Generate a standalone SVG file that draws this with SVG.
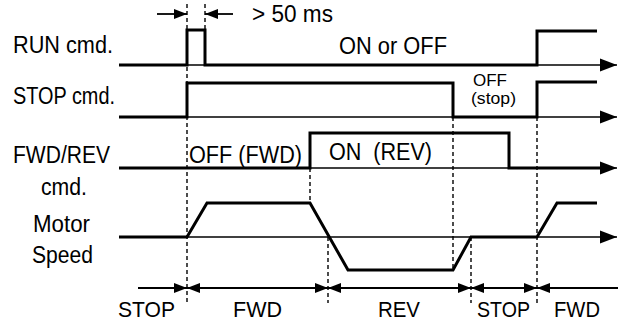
<svg xmlns="http://www.w3.org/2000/svg" width="618" height="322" viewBox="0 0 618 322">
<style>
text{font-family:"Liberation Sans",Arial,sans-serif;font-size:23px;fill:#000}
.sm{font-size:16px}
.bt{font-size:22px}
.axis{stroke:#000;stroke-width:1.6;fill:none}
.sig{stroke:#000;stroke-width:3;fill:none;stroke-linejoin:miter}
.dash{stroke:#000;stroke-width:1.4;stroke-dasharray:4,3;fill:none}
.dim{stroke:#000;stroke-width:1.8;fill:none}
</style>
<defs>
<marker id="ah" markerUnits="userSpaceOnUse" markerWidth="18" markerHeight="14" refX="17" refY="7" orient="auto"><path d="M0,0.5 L17,7 L0,13.5 z" fill="#000"/></marker>
<marker id="dh" markerUnits="userSpaceOnUse" markerWidth="14" markerHeight="12" refX="13" refY="6" orient="auto-start-reverse"><path d="M0,1 L13,6 L0,11 z" fill="#000"/></marker>
</defs>
<g id="guides">
<line class="dash" x1="187" y1="4" x2="187" y2="303"/>
<line class="dash" x1="205" y1="4" x2="205" y2="30"/>
<line class="dash" x1="310" y1="168" x2="310" y2="203"/>
<line class="dash" x1="328" y1="237" x2="328" y2="303"/>
<line class="dash" x1="453" y1="117" x2="453" y2="271"/>
<line class="dash" x1="471" y1="237" x2="471" y2="303"/>
<line class="dash" x1="537" y1="117" x2="537" y2="303"/>
</g>
<g id="connectors">
<line class="axis" x1="119" y1="65" x2="617" y2="65" marker-end="url(#ah)"/>
<line class="axis" x1="119" y1="117" x2="617" y2="117" marker-end="url(#ah)"/>
<line class="axis" x1="119" y1="168" x2="617" y2="168" marker-end="url(#ah)"/>
<line class="axis" x1="119" y1="237" x2="617" y2="237" marker-end="url(#ah)"/>
<line class="dim" x1="157" y1="14" x2="187" y2="14" marker-end="url(#dh)"/>
<line class="dim" x1="233" y1="14" x2="205" y2="14" marker-end="url(#dh)"/>
<line class="dim" x1="138" y1="288" x2="187" y2="288" marker-end="url(#dh)"/>
<line class="dim" x1="187" y1="288" x2="328" y2="288" marker-start="url(#dh)" marker-end="url(#dh)"/>
<line class="dim" x1="328" y1="288" x2="471" y2="288" marker-start="url(#dh)" marker-end="url(#dh)"/>
<line class="dim" x1="471" y1="288" x2="537" y2="288" marker-start="url(#dh)" marker-end="url(#dh)"/>
<line class="dim" x1="537" y1="288" x2="618" y2="288" marker-start="url(#dh)"/>
</g>
<g id="run">
<polyline class="sig" points="119,65 187,65 187,30 205,30 205,65 537,65 537,31 597,31"/>
<text x="13" y="53" textLength="100" lengthAdjust="spacingAndGlyphs">RUN cmd.</text>
<text x="339" y="54" textLength="108" lengthAdjust="spacingAndGlyphs">ON or OFF</text>
<text x="252" y="22" textLength="81" lengthAdjust="spacingAndGlyphs">&gt; 50 ms</text>
</g>
<g id="stop">
<polyline class="sig" points="119,117 187,117 187,83 453,83 453,117 537,117 537,82 597,82"/>
<text x="13" y="104" textLength="102" lengthAdjust="spacingAndGlyphs">STOP cmd.</text>
<text class="sm" x="473" y="86" textLength="34" lengthAdjust="spacingAndGlyphs">OFF</text>
<text class="sm" x="471" y="104" textLength="45" lengthAdjust="spacingAndGlyphs">(stop)</text>
</g>
<g id="fwdrev">
<polyline class="sig" points="119,168 310,168 310,133 509,133 509,168 600,168"/>
<text x="13" y="163" textLength="97" lengthAdjust="spacingAndGlyphs">FWD/REV</text>
<text x="41" y="195" textLength="46" lengthAdjust="spacingAndGlyphs">cmd.</text>
<text x="189" y="163" textLength="113" lengthAdjust="spacingAndGlyphs">OFF (FWD)</text>
<text x="329" y="160" textLength="103" lengthAdjust="spacingAndGlyphs" xml:space="preserve">ON  (REV)</text>
</g>
<g id="speed">
<polyline class="sig" points="119,237 187,237 207,203 310,203 348,270 453,270 471,237 537,237 557,203 597,203"/>
<text x="33" y="232" textLength="57" lengthAdjust="spacingAndGlyphs">Motor</text>
<text x="32" y="263" textLength="61" lengthAdjust="spacingAndGlyphs">Speed</text>
</g>
<g id="phases">
<text class="bt" x="118" y="317" textLength="57" lengthAdjust="spacingAndGlyphs">STOP</text>
<text class="bt" x="233" y="317" textLength="49" lengthAdjust="spacingAndGlyphs">FWD</text>
<text class="bt" x="378" y="317" textLength="42" lengthAdjust="spacingAndGlyphs">REV</text>
<text class="bt" x="477" y="317" textLength="53" lengthAdjust="spacingAndGlyphs">STOP</text>
<text class="bt" x="554" y="317" textLength="46" lengthAdjust="spacingAndGlyphs">FWD</text>
</g>
</svg>
